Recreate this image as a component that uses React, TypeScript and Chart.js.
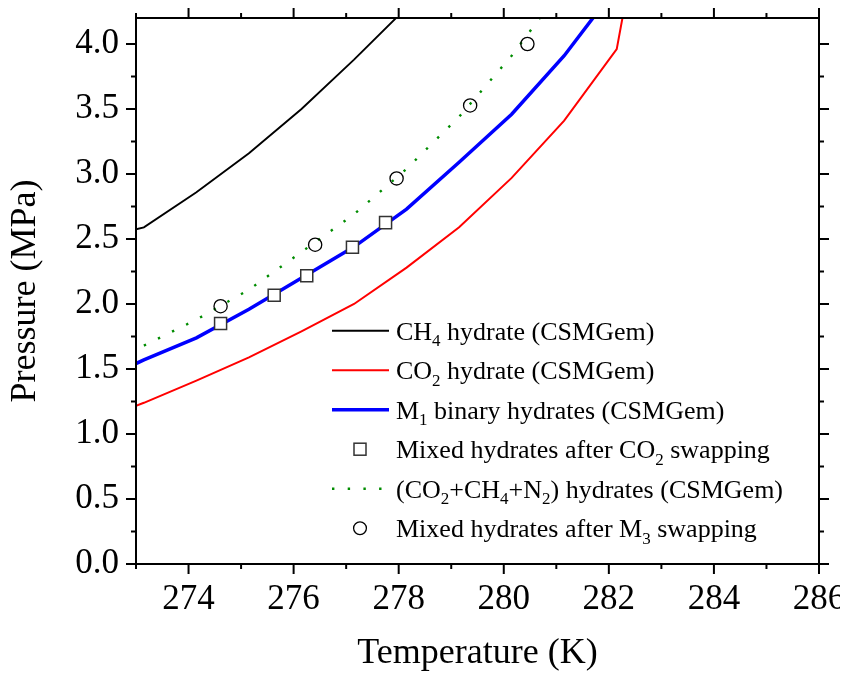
import React, { useEffect, useRef } from "react";
import { Chart, registerables } from "chart.js";

Chart.register(...registerables);

// ---- data ----
const ch4T = [273.0, 273.15, 274.15, 275.15, 276.15, 277.15, 278.15];
const ch4P = [2.575, 2.59, 2.86, 3.16, 3.5, 3.88, 4.28];

const co2T = [273.0, 273.15, 274.15, 275.15, 276.15, 277.15, 278.15, 279.15, 280.15, 281.15, 282.15, 282.35];
const co2P = [1.217, 1.24, 1.41, 1.59, 1.79, 2.0, 2.28, 2.59, 2.97, 3.41, 3.96, 4.4];

const m1T = [273.0, 273.15, 274.15, 275.15, 276.15, 277.15, 278.15, 279.15, 280.15, 281.15, 282.15];
const m1P = [1.542, 1.57, 1.74, 1.96, 2.2, 2.44, 2.73, 3.09, 3.46, 3.91, 4.44];

const co2SwapT = [274.61, 275.63, 276.25, 277.12, 277.75];
const co2SwapP = [1.85, 2.067, 2.218, 2.437, 2.626];

const mixT = [273.15, 274.15, 275.15, 276.15, 277.15, 278.15, 279.15, 280.15, 281.15];
const mixP = [1.68, 1.88, 2.11, 2.4, 2.69, 3.04, 3.44, 3.91, 4.45];

const m3SwapT = [274.61, 276.41, 277.96, 279.36, 280.45];
const m3SwapP = [1.983, 2.456, 2.966, 3.527, 4.0];

const xTickValues = [274, 276, 278, 280, 282, 284, 286];
const yTickValues = [0, 0.5, 1.0, 1.5, 2.0, 2.5, 3.0, 3.5, 4.0];

const legendLabels: [string, boolean][][] = [
  [["CH", false], ["4", true], [" hydrate (CSMGem)", false]],
  [["CO", false], ["2", true], [" hydrate (CSMGem)", false]],
  [["M", false], ["1", true], [" binary hydrates (CSMGem)", false]],
  [["Mixed hydrates after CO", false], ["2", true], [" swapping", false]],
  [["(CO", false], ["2", true], ["+CH", false], ["4", true], ["+N", false], ["2", true], [") hydrates (CSMGem)", false]],
  [["Mixed hydrates after M", false], ["3", true], [" swapping", false]],
];

const FONT = '"Liberation Serif", "Times New Roman", Times, serif';
const GREEN = "#008c00";
const W = 840;
const H = 665;

const toXY = (xs: number[], ys: number[]) => xs.map((x, i) => ({ x, y: ys[i] }));

const framePlugin = {
  id: "frameTicks",
  afterDatasetsDraw(chart: any) {
    const { ctx, chartArea: a, scales } = chart;
    const xs = scales.x;
    const ys = scales.y;
    ctx.save();
    ctx.strokeStyle = "#000";
    ctx.lineWidth = 2;
    ctx.lineCap = "butt";
    ctx.strokeRect(a.left, a.top, a.right - a.left, a.bottom - a.top);
    const seg = (x1: number, y1: number, x2: number, y2: number) => {
      ctx.beginPath();
      ctx.moveTo(x1, y1);
      ctx.lineTo(x2, y2);
      ctx.stroke();
    };
    for (let v = xs.min; v <= xs.max + 1e-6; v += 1) {
      const major = xTickValues.some((t) => Math.abs(t - v) < 1e-6);
      const len = major ? 10 : 5;
      const px = xs.getPixelForValue(v);
      seg(px, a.bottom, px, a.bottom + len);
      seg(px, a.top, px, a.top - len);
    }
    for (let v = ys.min; v <= ys.max + 1e-6; v += 0.25) {
      const major = yTickValues.some((t) => Math.abs(t - v) < 1e-6);
      const len = major ? 10 : 5;
      const py = ys.getPixelForValue(v);
      seg(a.left, py, a.left - len, py);
      seg(a.right, py, a.right + len, py);
    }
    ctx.restore();
  },
};

const legendPlugin = {
  id: "customLegend",
  afterDraw(chart: any) {
    const { ctx } = chart;
    const x0 = 324; // sample start
    const x1 = 381; // sample end
    const xm = 352; // marker centre
    const xt = 388; // text start
    const y0 = 322.7;
    const dy = 39.5;
    ctx.save();
    legendLabels.forEach((segs, i) => {
      const y = y0 + i * dy;
      ctx.setLineDash([]);
      if (i === 0 || i === 1 || i === 2) {
        ctx.strokeStyle = i === 0 ? "#000" : i === 1 ? "#ff0000" : "#0000ff";
        ctx.lineWidth = i === 2 ? 3.5 : 2;
        ctx.beginPath();
        ctx.moveTo(x0, y);
        ctx.lineTo(x1, y);
        ctx.stroke();
      } else if (i === 3) {
        ctx.fillStyle = "#fff";
        ctx.strokeStyle = "#333";
        ctx.lineWidth = 1.5;
        ctx.fillRect(xm - 6, y - 6, 12, 12);
        ctx.strokeRect(xm - 6, y - 6, 12, 12);
      } else if (i === 4) {
        ctx.strokeStyle = GREEN;
        ctx.lineWidth = 2.4;
        ctx.setLineDash([2.4, 13.3]);
        ctx.beginPath();
        ctx.moveTo(x0, y);
        ctx.lineTo(x1 + 2, y);
        ctx.stroke();
        ctx.setLineDash([]);
      } else {
        ctx.strokeStyle = "#000";
        ctx.lineWidth = 1.3;
        ctx.beginPath();
        ctx.arc(xm, y, 6.4, 0, Math.PI * 2);
        ctx.stroke();
      }
      // text
      ctx.fillStyle = "#000";
      ctx.textBaseline = "alphabetic";
      ctx.textAlign = "left";
      let x = xt;
      const base = y + 9;
      segs.forEach(([t, sub]) => {
        ctx.font = (sub ? "17px " : "26px ") + FONT;
        ctx.fillText(t, x, sub ? base + 6.5 : base);
        x += ctx.measureText(t).width;
      });
    });
    ctx.restore();
  },
};

export default function App() {
  const ref = useRef<HTMLCanvasElement | null>(null);

  useEffect(() => {
    const root = document.getElementById("root");
    if (root) root.style.width = W + "px";
    document.documentElement.style.overflow = "hidden";
    if (!ref.current) return;
    const chart = new Chart(ref.current, {
      type: "scatter",
      data: {
        datasets: [
          {
            label: "Mixed hydrates after CO2 swapping",
            data: toXY(co2SwapT, co2SwapP),
            showLine: false,
            pointStyle: "rect",
            pointRadius: 8.5,
            pointBorderWidth: 1.5,
            pointBorderColor: "#333",
            pointBackgroundColor: "#fff",
            order: 0,
          },
          {
            label: "Mixed hydrates after M3 swapping",
            data: toXY(m3SwapT, m3SwapP),
            showLine: false,
            pointStyle: "circle",
            pointRadius: 6.6,
            pointBorderWidth: 1.3,
            pointBorderColor: "#000",
            pointBackgroundColor: "rgba(0,0,0,0)",
            order: 0,
          },
          {
            label: "M1 binary hydrates (CSMGem)",
            data: toXY(m1T, m1P),
            showLine: true,
            borderColor: "#0000ff",
            borderWidth: 3.5,
            pointRadius: 0,
            order: 1,
          },
          {
            label: "(CO2+CH4+N2) hydrates (CSMGem)",
            data: toXY(mixT, mixP),
            showLine: true,
            borderColor: GREEN,
            borderWidth: 2.4,
            borderDash: [2.4, 13.3],
            pointRadius: 0,
            order: 2,
          },
          {
            label: "CO2 hydrate (CSMGem)",
            data: toXY(co2T, co2P),
            showLine: true,
            borderColor: "#ff0000",
            borderWidth: 2,
            pointRadius: 0,
            order: 3,
          },
          {
            label: "CH4 hydrate (CSMGem)",
            data: toXY(ch4T, ch4P),
            showLine: true,
            borderColor: "#000",
            borderWidth: 1.9,
            pointRadius: 0,
            order: 4,
          },
        ],
      },
      options: {
        animation: false,
        responsive: false,
        maintainAspectRatio: false,
        devicePixelRatio: 1,
        events: [],
        layout: { padding: { left: 0, top: 7, right: 29, bottom: 0 } },
        plugins: {
          legend: { display: false },
          tooltip: { enabled: false },
        },
        scales: {
          x: {
            type: "linear",
            min: 273,
            max: 286,
            grid: { display: false, drawTicks: false },
            border: { display: false },
            afterBuildTicks: (s: any) => {
              s.ticks = xTickValues.map((v) => ({ value: v }));
            },
            afterFit: (s: any) => {
              s.height = 109;
              s.paddingLeft = 0;
              s.paddingRight = 0;
              s.paddingTop = 0;
              s.paddingBottom = 0;
            },
            ticks: {
              autoSkip: false,
              maxRotation: 0,
              padding: 15,
              color: "#000",
              font: { family: FONT, size: 35 },
              callback: (v: any) => String(v),
            },
            title: {
              display: true,
              text: "Temperature (K)",
              color: "#000",
              font: { family: FONT, size: 36, lineHeight: 1 },
              padding: { top: 0, bottom: 1 },
            },
          },
          y: {
            type: "linear",
            min: 0,
            max: 4.2,
            grid: { display: false, drawTicks: false },
            border: { display: false },
            afterBuildTicks: (s: any) => {
              s.ticks = yTickValues.map((v) => ({ value: v }));
            },
            afterFit: (s: any) => {
              s.width = 128;
              s.paddingLeft = 0;
              s.paddingRight = 0;
              s.paddingTop = 0;
              s.paddingBottom = 0;
            },
            ticks: {
              autoSkip: false,
              padding: 17,
              color: "#000",
              font: { family: FONT, size: 35 },
              callback: (v: any) => Number(v).toFixed(1),
            },
            title: {
              display: true,
              text: "Pressure (MPa)",
              color: "#000",
              font: { family: FONT, size: 36, lineHeight: 1 },
              padding: { top: 0, bottom: 0 },
            },
          },
        },
      },
      plugins: [framePlugin, legendPlugin],
    });
    return () => chart.destroy();
  }, []);

  return (
    <div style={{ width: W, height: H }}>
      <canvas ref={ref} width={W} height={H} style={{ display: "block", width: W, height: H }} />
    </div>
  );
}
